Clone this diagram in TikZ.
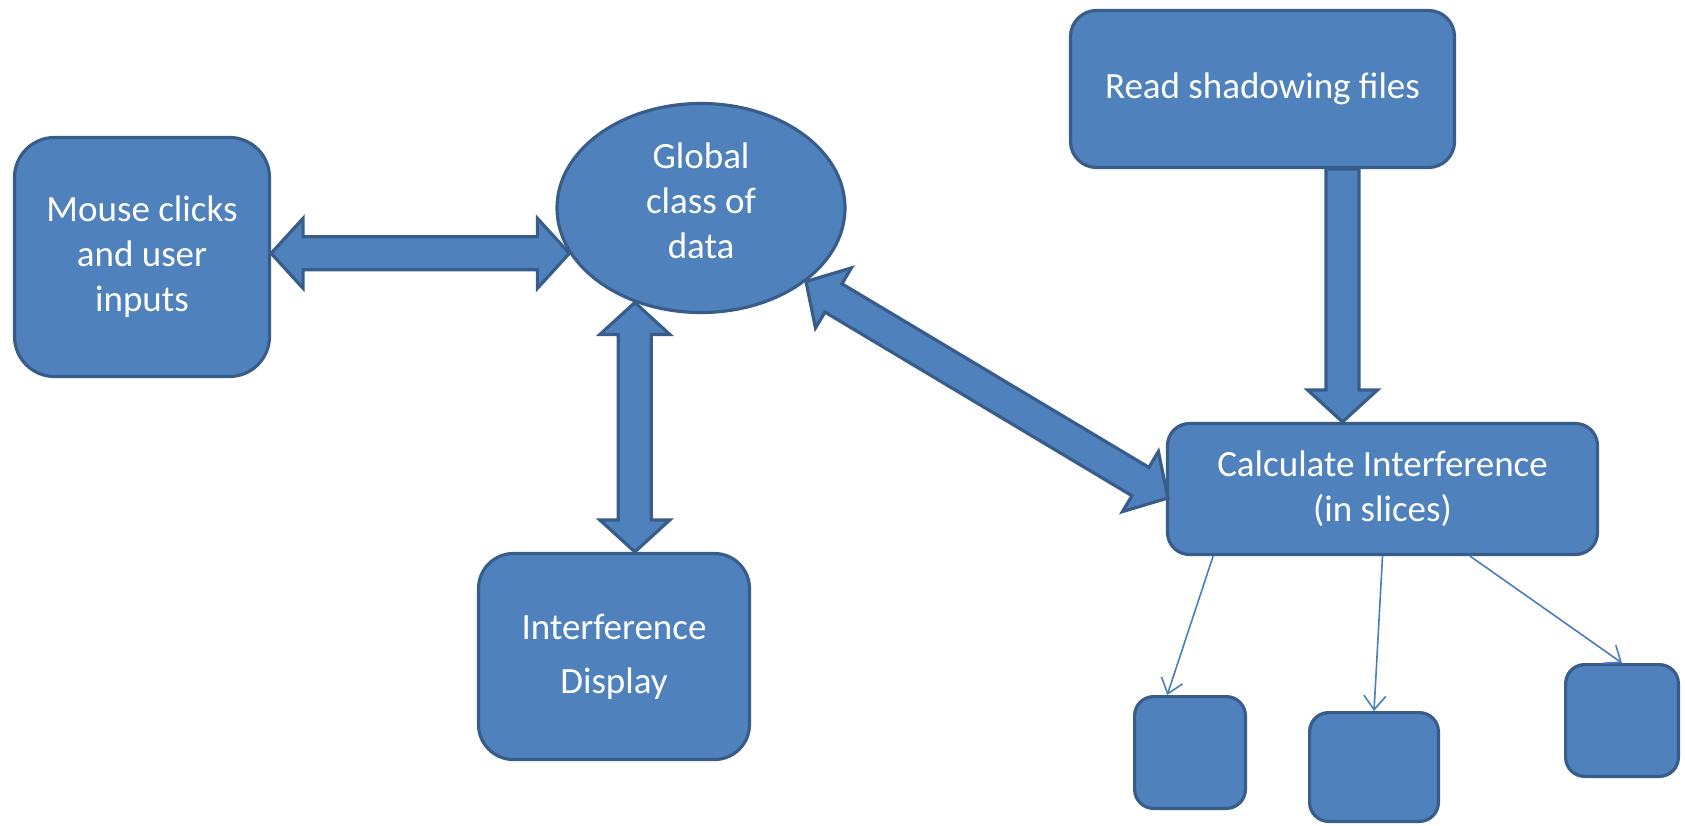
\documentclass[tikz,border=0pt]{standalone}
\usepackage{fontspec}
\setmainfont{Carlito}
\usetikzlibrary{calc,arrows.meta,shapes.geometric}
\definecolor{boxblue}{HTML}{4F81BD}
\definecolor{boxedge}{HTML}{385D8A}
\definecolor{linkblue}{HTML}{4A7EBB}

% fat two-headed arrow from #1 to #2
\newcommand\blockdbl[2]{%
  \coordinate (ba) at (#1); \coordinate (bb) at (#2);
  \coordinate (ha) at ($(ba)!16pt!(bb)$);
  \coordinate (hb) at ($(bb)!16pt!(ba)$);
  \draw[blockarr] (ba) -- ($(ha)!17.5pt!90:(bb)$) -- ($(ha)!8.25pt!90:(bb)$)
    -- ($(hb)!8.25pt!-90:(ba)$) -- ($(hb)!17.5pt!-90:(ba)$) -- (bb)
    -- ($(hb)!17.5pt!90:(ba)$) -- ($(hb)!8.25pt!90:(ba)$)
    -- ($(ha)!8.25pt!-90:(bb)$) -- ($(ha)!17.5pt!-90:(bb)$) -- cycle;}
% fat one-headed arrow from #1 to #2
\newcommand\blocksgl[2]{%
  \coordinate (ba) at (#1); \coordinate (bb) at (#2);
  \coordinate (hb) at ($(bb)!16pt!(ba)$);
  \draw[blockarr] ($(ba)!8.25pt!90:(bb)$) -- ($(hb)!8.25pt!-90:(ba)$)
    -- ($(hb)!17.5pt!-90:(ba)$) -- (bb) -- ($(hb)!17.5pt!90:(ba)$)
    -- ($(hb)!8.25pt!90:(ba)$) -- ($(ba)!8.25pt!-90:(bb)$) -- cycle;}

\begin{document}
\begin{tikzpicture}[x=0.5pt,y=-0.5pt,
  box/.style={draw=boxedge,fill=boxblue,line width=1.6pt,text=white,align=center,
    font=\fontsize{18.5}{22.5}\selectfont,inner sep=0pt},
  blockarr/.style={draw=boxedge,fill=boxblue,line width=1.6pt,line join=miter},
  link/.style={draw=linkblue,line width=0.8pt,-{Straight Barb[length=7pt,width=11pt]}}]
\useasboundingbox (0,0) rectangle (1685,825);
\node[box,rounded corners=20pt,minimum width=127.5pt,minimum height=119.5pt] (mouse) at (142,257) {Mouse clicks\\and user\\inputs};
\node[box,ellipse,minimum width=144pt,minimum height=104.5pt,text depth=7.5pt] (glob) at (701,208) {Global\\class of\\data};
\node[box,rounded corners=13pt,minimum width=192pt,minimum height=78.5pt] (read) at (1262.5,89) {Read shadowing files};
\node[box,rounded corners=11pt,minimum width=215pt,minimum height=65.5pt] (calc) at (1382.5,489) {Calculate Interference\\(in slices)};
\node[box,rounded corners=17.5pt,minimum width=135.5pt,minimum height=103pt] (disp) at (614,656.5) {Interference\\[4.5pt]Display};
\node[box,rounded corners=9.5pt,minimum width=55.4pt,minimum height=55.9pt] (s1) at (1190,752.5) {};
\node[box,rounded corners=9.5pt,minimum width=64.4pt,minimum height=54.4pt] (s2) at (1374,767) {};
\node[box,rounded corners=9.5pt,minimum width=56.4pt,minimum height=55.9pt] (s3) at (1622,720.5) {};
% fat arrows
\blockdbl{mouse.east |- glob.199}{glob.199}
\blockdbl{glob.235}{glob.235 |- disp.north}
\blockdbl{glob.325}{$(calc.west)+(2,9)$}
\coordinate (rd) at ($(read.south)+(80,0)$);
\blocksgl{rd}{rd |- calc.north}
% thin arrows to the slices
\draw[link] ($(calc.south west)!0.109!(calc.south east)$) -- ($(s1.north west)!0.3!(s1.north east)$);
\draw[link] (calc.south) -- (s2.north);
\draw[link] ($(calc.south west)!0.702!(calc.south east)$) -- (s3.north);
\end{tikzpicture}
\end{document}
